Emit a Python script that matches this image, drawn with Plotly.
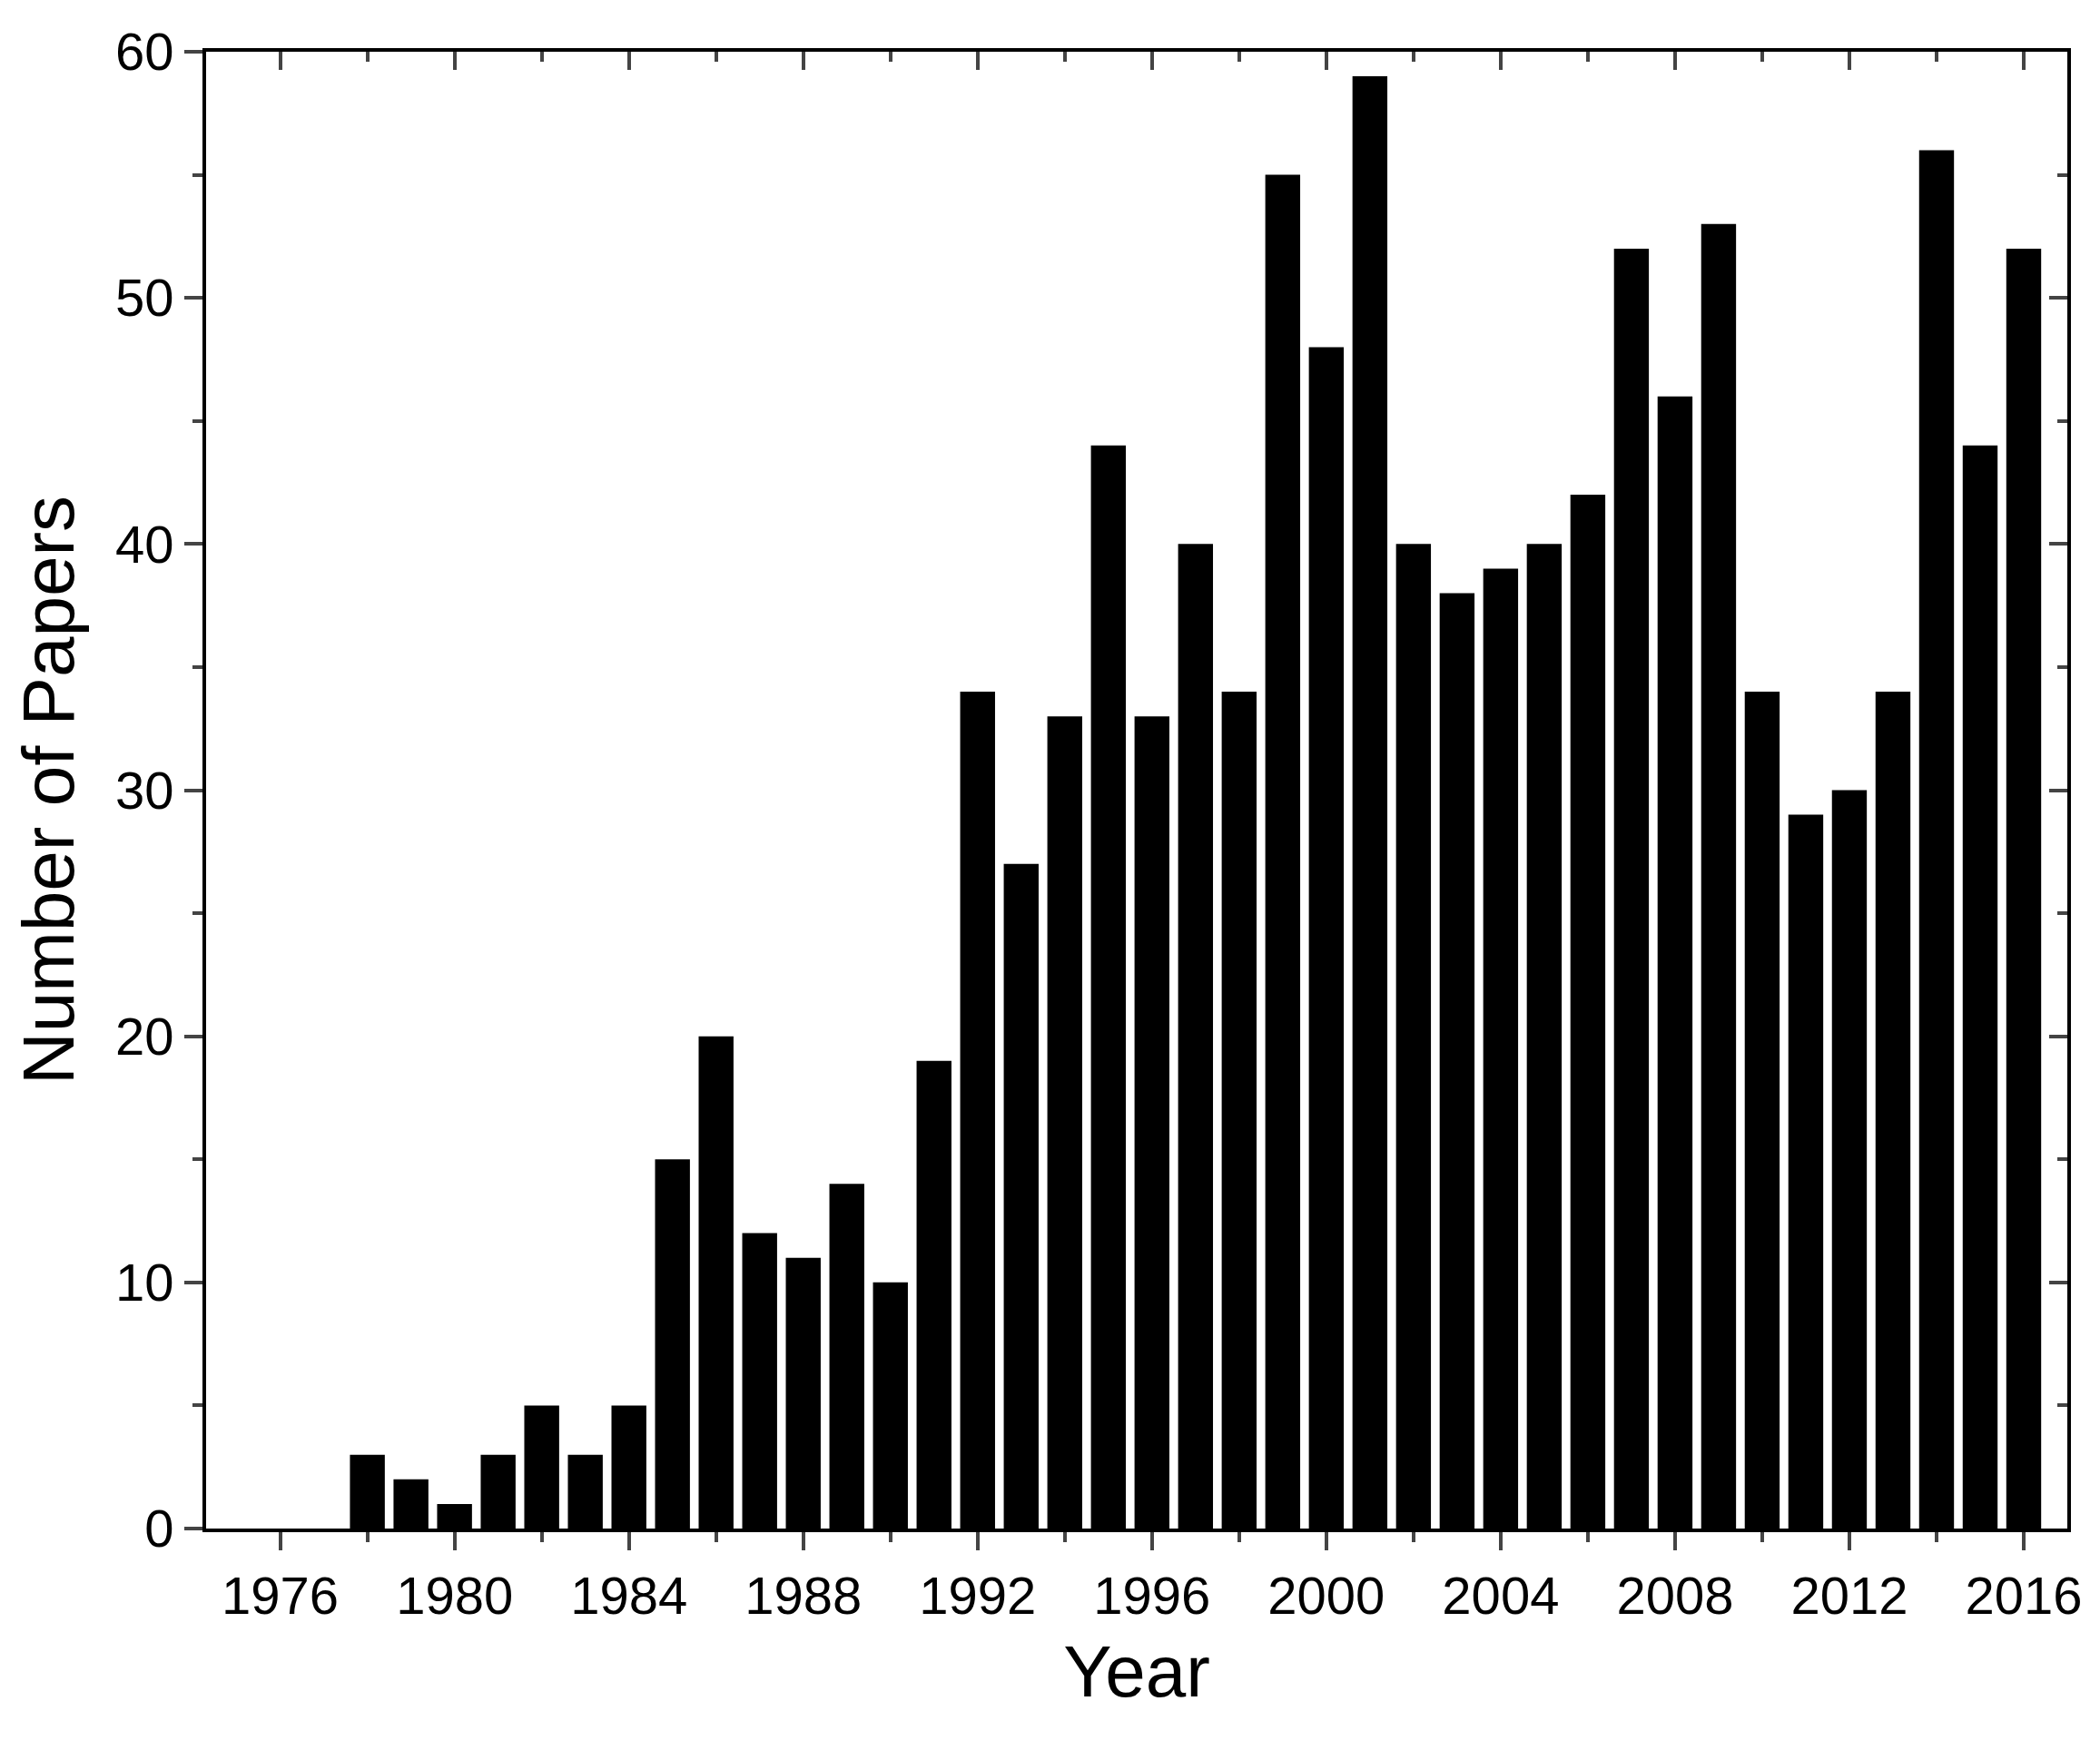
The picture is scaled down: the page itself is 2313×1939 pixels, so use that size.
import plotly.graph_objects as go

years = list(range(1976, 2017))
papers = [0, 0, 3, 2, 1, 3, 5, 3, 5, 15, 20, 12, 11, 14, 10, 19, 34, 27, 33, 44,
          33, 40, 34, 55, 48, 59, 40, 38, 39, 40, 42, 52, 46, 53, 34, 29, 30, 34,
          56, 44, 52]
x_ticks = list(range(1976, 2017, 4))
y_ticks = list(range(0, 61, 10))

xr = [1974.3, 2017.0]
yr = [0, 60]
font = dict(family="Liberation Sans, Arial", size=58, color="black")

fig = go.Figure()
fig.add_trace(go.Bar(x=years, y=papers, width=0.8, marker=dict(color="black", line_width=0)))
# dummy trace for mirrored top/right axes
fig.add_trace(go.Scatter(x=xr, y=yr, xaxis="x2", yaxis="y2", mode="none",
                         showlegend=False, hoverinfo="skip"))

fig.update_layout(
    width=2313, height=1939,
    margin=dict(l=219, r=44, t=49, b=263),
    plot_bgcolor="white", paper_bgcolor="white",
    showlegend=False, font=font,
    xaxis=dict(range=xr, tickvals=x_ticks, ticks="outside", ticklen=20, tickwidth=4,
               showline=True, linewidth=4, linecolor="black", showgrid=False,
               zeroline=False, tickfont=font,
               minor=dict(dtick=2, tick0=1976, ticks="outside", ticklen=11, tickwidth=4),
               title=dict(text="Year", font=dict(size=80, family=font["family"]), standoff=25)),
    yaxis=dict(range=yr, tickvals=y_ticks, ticks="outside", ticklen=20, tickwidth=4,
               showline=True, linewidth=4, linecolor="black", showgrid=False,
               zeroline=False, tickfont=font,
               minor=dict(dtick=5, ticks="outside", ticklen=11, tickwidth=4),
               title=dict(text="Number of Papers", font=dict(size=80, family=font["family"]), standoff=20)),
    xaxis2=dict(range=xr, overlaying="x", side="top", tickvals=x_ticks, ticks="inside",
                ticklen=20, tickwidth=4, showticklabels=False, showline=True, linewidth=4,
                linecolor="black", showgrid=False, zeroline=False,
                minor=dict(dtick=2, tick0=1976, ticks="inside", ticklen=11, tickwidth=4)),
    yaxis2=dict(range=yr, overlaying="y", side="right", tickvals=y_ticks, ticks="inside",
                ticklen=20, tickwidth=4, showticklabels=False, showline=True, linewidth=4,
                linecolor="black", showgrid=False, zeroline=False,
                minor=dict(dtick=5, ticks="inside", ticklen=11, tickwidth=4)),
)

fig.write_html("out.html")
